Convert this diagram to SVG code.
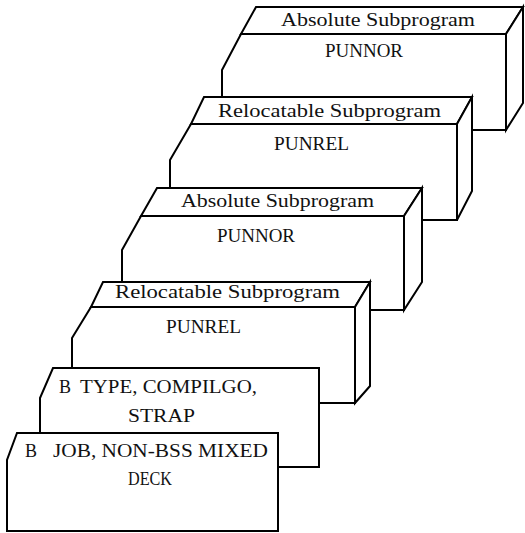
<svg xmlns="http://www.w3.org/2000/svg" width="525" height="533" viewBox="0 0 525 533">
<style>
.f{fill:#fff;stroke:#000;stroke-width:2;stroke-linejoin:miter}
.t{font-family:"Liberation Serif","Times New Roman",serif;font-size:18px;fill:#111}
</style>
<rect width="525" height="533" fill="#fff"/>
<g id="card1">
<polygon class="f" points="241,34 506,34 506,130 222,130 222,70"/>
<polygon class="f" points="256,7 523,7 506,34 241,34"/>
<polygon class="f" points="506,34 523,7 523,103 506,130"/>
<text class="t" x="281" y="26" textLength="194" lengthAdjust="spacingAndGlyphs">Absolute Subprogram</text>
<text class="t" x="325" y="57" textLength="78" lengthAdjust="spacingAndGlyphs">PUNNOR</text>
</g>
<g id="card2">
<polygon class="f" points="191,124 457,124 457,220 170,220 170,160"/>
<polygon class="f" points="204,97 472,97 457,124 191,124"/>
<polygon class="f" points="457,124 472,97 472,191 457,220"/>
<text class="t" x="218" y="117" textLength="223" lengthAdjust="spacingAndGlyphs">Relocatable Subprogram</text>
<text class="t" x="274" y="150" textLength="75" lengthAdjust="spacingAndGlyphs">PUNREL</text>
</g>
<g id="card3">
<polygon class="f" points="141,216 404,216 404,310 122,310 122,250"/>
<polygon class="f" points="157,188 422,188 404,216 141,216"/>
<polygon class="f" points="404,216 422,188 422,282 404,310"/>
<text class="t" x="181" y="207" textLength="193" lengthAdjust="spacingAndGlyphs">Absolute Subprogram</text>
<text class="t" x="217" y="242" textLength="78" lengthAdjust="spacingAndGlyphs">PUNNOR</text>
</g>
<g id="card4">
<polygon class="f" points="91,307 355,307 355,403 72,403 72,338"/>
<polygon class="f" points="103,282 370,282 355,307 91,307"/>
<polygon class="f" points="355,307 370,282 370,386 355,403"/>
<text class="t" x="115" y="298" textLength="225" lengthAdjust="spacingAndGlyphs">Relocatable Subprogram</text>
<text class="t" x="166" y="333" textLength="75" lengthAdjust="spacingAndGlyphs">PUNREL</text>
</g>
<g id="card5">
<polygon class="f" points="53,368 319,368 319,467 40,467 40,398"/>
<text class="t" x="59" y="393">B</text>
<text class="t" x="80" y="393" textLength="177" lengthAdjust="spacingAndGlyphs">TYPE, COMPILGO,</text>
<text class="t" x="128" y="422" textLength="67" lengthAdjust="spacingAndGlyphs">STRAP</text>
</g>
<g id="card6">
<polygon class="f" points="17,433 278,433 278,531 7,531 7,460"/>
<text class="t" x="25" y="457">B</text>
<text class="t" x="53" y="457" textLength="215" lengthAdjust="spacingAndGlyphs">JOB,  NON-BSS MIXED</text>
<text class="t" x="128" y="485" textLength="44" lengthAdjust="spacingAndGlyphs">DECK</text>
</g>
</svg>
